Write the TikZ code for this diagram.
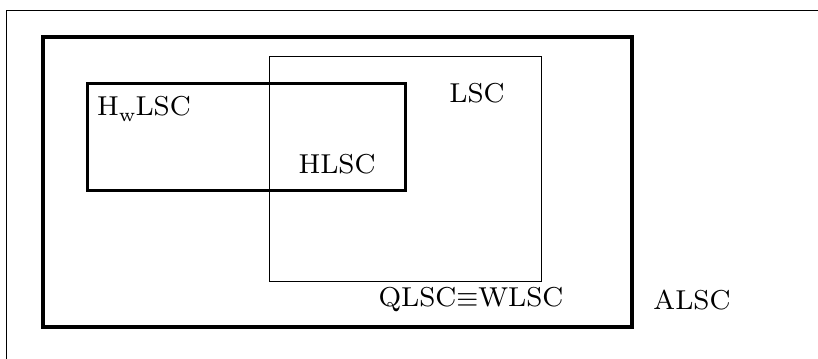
\documentclass[tikz,border=0pt]{standalone}
\begin{document}
\begin{tikzpicture}[x=0.3pt,y=-0.3pt,
  lbl/.style={inner sep=0pt,font=\fontsize{8.2}{9.8}\selectfont},
  thickbox/.style={line width=1.0pt},
  midbox/.style={line width=0.9pt},
  thinbox/.style={line width=0.3pt}]
\useasboundingbox (0,0) rectangle (818,359);
\draw[line width=0.3pt] (7,359) -- (7,10) -- (818,10);
\draw[thickbox] (43,37) rectangle (632,327);
\draw[thinbox] (270,56) rectangle (542,281);
\draw[midbox] (88,83) rectangle (406,190);
\node[lbl] (hw) at (144,109) {H\raisebox{-0.45ex}{\fontsize{5.7}{6}\selectfont w}LSC};
\node[lbl] (lsc) at (477,93) {LSC};
\node[lbl] (hlsc) at (337,164) {HLSC};
\node[lbl] (qw) at (471,300) {QLSC$\equiv$WLSC};
\node[lbl] (alsc) at (692,300) {ALSC};
\end{tikzpicture}
\end{document}
